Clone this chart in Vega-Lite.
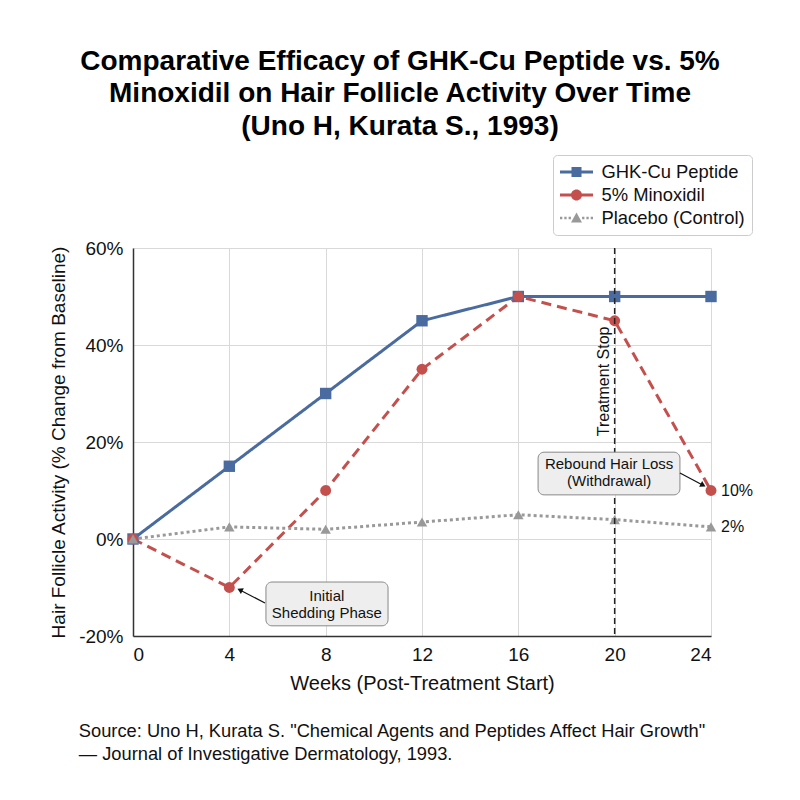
{
  "$schema": "https://vega.github.io/schema/vega-lite/v6.json",
  "width": 578,
  "height": 388,
  "autosize": "none",
  "padding": {"left": 133, "top": 248, "right": 89, "bottom": 164},
  "background": "white",
  "config": {
    "font": "Liberation Sans",
    "view": {"stroke": null},
    "axis": {"labelColor": "#111", "titleColor": "#111", "titleFontWeight": "normal"}
  },
  "title": {
    "text": ["Comparative Efficacy of GHK-Cu Peptide vs. 5%", "Minoxidil on Hair Follicle Activity Over Time", "(Uno H, Kurata S., 1993)"],
    "fontSize": 28,
    "fontWeight": "bold",
    "color": "#000",
    "anchor": "middle",
    "frame": "group",
    "dx": -22,
    "lineHeight": 32.5,
    "offset": 14
  },
  "datasets": {
    "series": [
      {"week": 0, "value": 0, "series": "GHK-Cu Peptide"},
      {"week": 4, "value": 15, "series": "GHK-Cu Peptide"},
      {"week": 8, "value": 30, "series": "GHK-Cu Peptide"},
      {"week": 12, "value": 45, "series": "GHK-Cu Peptide"},
      {"week": 16, "value": 50, "series": "GHK-Cu Peptide"},
      {"week": 20, "value": 50, "series": "GHK-Cu Peptide"},
      {"week": 24, "value": 50, "series": "GHK-Cu Peptide"},
      {"week": 0, "value": 0, "series": "5% Minoxidil"},
      {"week": 4, "value": -10, "series": "5% Minoxidil"},
      {"week": 8, "value": 10, "series": "5% Minoxidil"},
      {"week": 12, "value": 35, "series": "5% Minoxidil"},
      {"week": 16, "value": 50, "series": "5% Minoxidil"},
      {"week": 20, "value": 45, "series": "5% Minoxidil"},
      {"week": 24, "value": 10, "series": "5% Minoxidil"},
      {"week": 0, "value": 0, "series": "Placebo (Control)"},
      {"week": 4, "value": 2.5, "series": "Placebo (Control)"},
      {"week": 8, "value": 2, "series": "Placebo (Control)"},
      {"week": 12, "value": 3.5, "series": "Placebo (Control)"},
      {"week": 16, "value": 5, "series": "Placebo (Control)"},
      {"week": 20, "value": 4, "series": "Placebo (Control)"},
      {"week": 24, "value": 2.5, "series": "Placebo (Control)"}
    ],
    "boxes": [
      {"x1": 16.82, "x2": 22.71, "y1": 17.9, "y2": 9.1, "label": ["Rebound Hair Loss", "(Withdrawal)"], "cx": 19.77, "cy": 15.4},
      {"x1": 5.52, "x2": 10.59, "y1": -8.87, "y2": -17.9, "label": ["Initial", "Shedding Phase"], "cx": 8.05, "cy": -11.7}
    ],
    "arrows": [
      {"x1": 22.71, "y1": 13.6, "x2": 23.67, "y2": 11.1, "dir": 118},
      {"x1": 5.48, "y1": -13.2, "x2": 4.44, "y2": -10.5, "dir": 297}
    ],
    "endlabels": [
      {"week": 24, "value": 10, "text": "10%"},
      {"week": 24, "value": 2.5, "text": "2%"}
    ],
    "source": [
      {"week": -2.25, "value": -40.8, "text": ["Source: Uno H, Kurata S. \"Chemical Agents and Peptides Affect Hair Growth\"", "— Journal of Investigative Dermatology, 1993."]}
    ]
  },
  "layer": [
    {
      "data": {"name": "series"},
      "mark": {"type": "line", "strokeWidth": 3},
      "encoding": {
        "x": {
          "field": "week", "type": "quantitative",
          "scale": {"domain": [0, 24], "nice": false},
          "axis": {
            "values": [0, 4, 8, 12, 16, 20, 24],
            "title": "Weeks (Post-Treatment Start)",
            "titleFontSize": 20,
            "labelFontSize": 19,
            "grid": true,
            "gridColor": "#d9d9d9",
            "domainColor": "#333",
            "domainWidth": 1.5,
            "ticks": false,
            "labelPadding": 9,
            "titlePadding": 9
          }
        },
        "y": {
          "field": "value", "type": "quantitative",
          "scale": {"domain": [-20, 60], "nice": false},
          "axis": {
            "values": [-20, 0, 20, 40, 60],
            "labelExpr": "datum.value + '%'",
            "title": "Hair Follicle Activity (% Change from Baseline)",
            "titleFontSize": 19,
            "labelFontSize": 19,
            "grid": true,
            "gridColor": "#d9d9d9",
            "domainColor": "#333",
            "domainWidth": 1.5,
            "ticks": false,
            "labelPadding": 10,
            "titlePadding": 10
          }
        },
        "color": {
          "field": "series", "type": "nominal",
          "scale": {"domain": ["GHK-Cu Peptide", "5% Minoxidil", "Placebo (Control)"], "range": ["#4a6b9f", "#c4504e", "#999999"]},
          "legend": {
            "title": null,
            "orient": "none",
            "legendX": 420,
            "legendY": -93,
            "labelFontSize": 18.4,
            "labelColor": "#111",
            "fillColor": "white",
            "strokeColor": "#cccccc",
            "padding": 7,
            "cornerRadius": 4,
            "rowPadding": 3,
            "labelOffset": 15,
            "symbolOffset": 6.5,
            "symbolSize": 400,
            "symbolStrokeWidth": 0,
            "symbolOpacity": 1
          }
        },
        "strokeDash": {
          "field": "series", "type": "nominal",
          "scale": {"domain": ["GHK-Cu Peptide", "5% Minoxidil", "Placebo (Control)"], "range": [[1, 0], [10, 6], [3, 3]]},
          "legend": null
        }
      }
    },
    {
      "data": {"name": "series"},
      "transform": [{"filter": "false"}],
      "mark": {"type": "point", "filled": true, "opacity": 1},
      "encoding": {
        "x": {"field": "week", "type": "quantitative"},
        "y": {"field": "value", "type": "quantitative"},
        "color": {"field": "series", "type": "nominal"},
        "shape": {
          "field": "series", "type": "nominal",
          "scale": {
            "domain": ["GHK-Cu Peptide", "5% Minoxidil", "Placebo (Control)"],
            "range": [
              "M-1.65,-0.15H1.65V0.15H-1.65Z M-0.5,-0.5H0.5V0.5H-0.5Z",
              "M-1.65,-0.15H1.65V0.15H-1.65Z M-0.55,0A0.55,0.55 0 1 1 0.55,0A0.55,0.55 0 1 1 -0.55,0Z",
              "M-1.65,-0.13H-1.42V0.13H-1.65Z M-1.22,-0.13H-0.99V0.13H-1.22Z M-0.79,-0.13H-0.56V0.13H-0.79Z M0.56,-0.13H0.79V0.13H0.56Z M0.99,-0.13H1.22V0.13H0.99Z M1.42,-0.13H1.65V0.13H1.42Z M0,-0.55L0.55,0.45L-0.55,0.45Z"
            ]
          },
          "legend": {"title": null}
        }
      }
    },
    {
      "data": {"name": "series"},
      "transform": [{"filter": "datum.series === 'GHK-Cu Peptide'"}],
      "mark": {"type": "point", "filled": true, "opacity": 1, "shape": "square", "size": 130},
      "encoding": {
        "x": {"field": "week", "type": "quantitative"},
        "y": {"field": "value", "type": "quantitative"},
        "color": {"field": "series", "type": "nominal"}
      }
    },
    {
      "data": {"name": "series"},
      "transform": [{"filter": "datum.series === '5% Minoxidil'"}],
      "mark": {"type": "point", "filled": true, "opacity": 1, "shape": "circle", "size": 120},
      "encoding": {
        "x": {"field": "week", "type": "quantitative"},
        "y": {"field": "value", "type": "quantitative"},
        "color": {"field": "series", "type": "nominal"}
      }
    },
    {
      "data": {"name": "series"},
      "transform": [{"filter": "datum.series === 'Placebo (Control)'"}],
      "mark": {"type": "point", "filled": true, "opacity": 1, "shape": "triangle-up", "size": 110},
      "encoding": {
        "x": {"field": "week", "type": "quantitative"},
        "y": {"field": "value", "type": "quantitative"},
        "color": {"field": "series", "type": "nominal"}
      }
    },
    {
      "mark": {"type": "rule", "color": "#222", "strokeDash": [6, 4], "strokeWidth": 1.5},
      "encoding": {"x": {"datum": 20}}
    },
    {
      "mark": {"type": "text", "angle": 270, "fontSize": 16, "baseline": "bottom", "align": "center", "dy": -3, "color": "#111"},
      "encoding": {"x": {"datum": 20}, "y": {"datum": 32.5}, "text": {"value": "Treatment Stop"}}
    },
    {
      "data": {"name": "boxes"},
      "mark": {"type": "rect", "fill": "#eeeeee", "stroke": "#888888", "strokeWidth": 1, "cornerRadius": 6},
      "encoding": {
        "x": {"field": "x1", "type": "quantitative"},
        "x2": {"field": "x2"},
        "y": {"field": "y1", "type": "quantitative"},
        "y2": {"field": "y2"}
      }
    },
    {
      "data": {"name": "boxes"},
      "mark": {"type": "text", "fontSize": 15, "lineHeight": 17, "align": "center", "baseline": "middle", "color": "#111"},
      "encoding": {
        "x": {"field": "cx", "type": "quantitative"},
        "y": {"field": "cy", "type": "quantitative"},
        "text": {"field": "label"}
      }
    },
    {
      "data": {"name": "arrows"},
      "mark": {"type": "rule", "color": "#111", "strokeWidth": 1.2},
      "encoding": {
        "x": {"field": "x1", "type": "quantitative"},
        "y": {"field": "y1", "type": "quantitative"},
        "x2": {"field": "x2"},
        "y2": {"field": "y2"}
      }
    },
    {
      "data": {"name": "arrows"},
      "mark": {"type": "point", "shape": "triangle-up", "filled": true, "color": "#111", "size": 40, "opacity": 1},
      "encoding": {
        "x": {"field": "x2", "type": "quantitative"},
        "y": {"field": "y2", "type": "quantitative"},
        "angle": {"field": "dir", "type": "quantitative", "scale": null}
      }
    },
    {
      "data": {"name": "endlabels"},
      "mark": {"type": "text", "align": "left", "baseline": "middle", "dx": 10, "fontSize": 16, "color": "#111"},
      "encoding": {
        "x": {"field": "week", "type": "quantitative"},
        "y": {"field": "value", "type": "quantitative"},
        "text": {"field": "text"}
      }
    },
    {
      "data": {"name": "source"},
      "mark": {"type": "text", "align": "left", "baseline": "alphabetic", "fontSize": 18.3, "lineHeight": 23, "color": "#111"},
      "encoding": {
        "x": {"field": "week", "type": "quantitative"},
        "y": {"field": "value", "type": "quantitative"},
        "text": {"field": "text"}
      }
    }
  ]
}
